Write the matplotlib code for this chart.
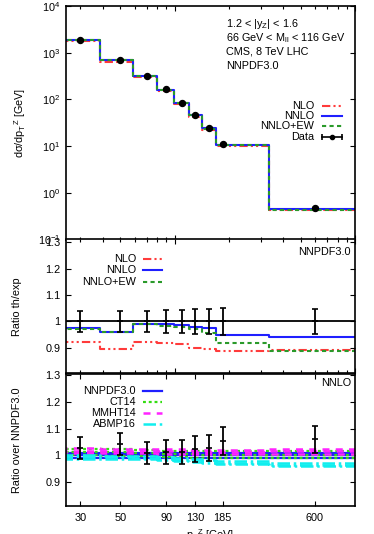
import numpy as np
import matplotlib
matplotlib.use("Agg")
import matplotlib.pyplot as plt
from matplotlib.ticker import FixedLocator, NullFormatter, FixedFormatter, LogLocator

plt.rcParams['font.family'] = ['Liberation Sans', 'DejaVu Sans']
plt.rcParams['mathtext.fontset'] = 'custom'
plt.rcParams['mathtext.rm'] = 'Liberation Sans'
plt.rcParams['mathtext.it'] = 'Liberation Sans:italic'
plt.rcParams['mathtext.default'] = 'regular'

# ---------------- data ----------------
x_pt = [30, 50, 70, 90, 110, 130, 155, 185, 600]
data = [1900, 715, 320, 163, 85, 47, 24.5, 11.3, 0.475]
rel_err = [0.040, 0.040, 0.040, 0.045, 0.045, 0.047, 0.048, 0.051, 0.048]

# theory / experiment ratios
r_nlo = [0.923, 0.897, 0.923, 0.920, 0.916, 0.898, 0.897, 0.887, 0.891]
r_nnlo = [0.975, 0.960, 0.992, 0.989, 0.988, 0.978, 0.975, 0.950, 0.943]
r_nnloew = [0.972, 0.960, 0.990, 0.983, 0.978, 0.970, 0.958, 0.920, 0.888]

# PDF ratios over NNPDF3.0 (central, uncertainty)
nnpdf_c = [1.000, 1.000, 1.000, 1.000, 1.000, 1.000, 1.000, 1.000, 1.000]
nnpdf_e = [0.009, 0.009, 0.009, 0.009, 0.009, 0.009, 0.009, 0.009, 0.009]
ct14_c = [1.011, 1.010, 1.007, 1.005, 1.004, 1.003, 1.002, 1.002, 1.002]
ct14_e = [0.012, 0.012, 0.012, 0.012, 0.012, 0.012, 0.012, 0.012, 0.012]
mmht_c = [1.017, 1.016, 1.015, 1.014, 1.014, 1.013, 1.013, 1.013, 1.014]
mmht_e = [0.008, 0.008, 0.008, 0.008, 0.008, 0.008, 0.008, 0.008, 0.008]
abmp_c = [0.993, 0.992, 0.990, 0.986, 0.983, 0.980, 0.977, 0.971, 0.964]
abmp_e = [0.006, 0.006, 0.006, 0.006, 0.006, 0.006, 0.006, 0.006, 0.005]

xticks_bottom = [30, 50, 90, 130, 185, 600]

# ---------------- helpers ----------------
xa = np.array(x_pt, float)
lx = np.log10(xa)
mids = (lx[1:] + lx[:-1]) / 2
edges = 10 ** np.concatenate([[2 * lx[0] - mids[0]], mids, [2 * lx[-1] - mids[-1]]])


def steps(ax, vals, **kw):
    v = np.asarray(vals, float)
    return ax.step(edges, np.append(v, v[-1]), where='post', **kw)


C_RED = '#ff3b3b'
C_BLUE = '#1f1fff'
C_GREEN = '#2a9a2a'
C_LIME = '#33dd11'
C_MAG = '#ff22ff'
C_CYAN = '#11eeee'

st_nlo = dict(color=C_RED, lw=1.5, dashes=(4, 1.5, 1, 1.5, 1, 1.5))
st_nnlo = dict(color=C_BLUE, lw=1.5, linestyle='-')
st_ew = dict(color=C_GREEN, lw=1.5, dashes=(2, 1.6))
st_nnpdf = dict(color=C_BLUE, lw=1.6, linestyle='-')
st_ct = dict(color=C_LIME, lw=1.6, dashes=(1.3, 1.3))
st_mmht = dict(color=C_MAG, lw=1.8, dashes=(2.8, 2.5))
st_abmp = dict(color=C_CYAN, lw=1.8, dashes=(5, 1.5, 1, 1.5))

FS = 7.8
W_PX, H_PX = 374, 534
fig = plt.figure(figsize=(W_PX / 100, H_PX / 100), dpi=100)
L = 66 / W_PX
W = 289 / W_PX
ax1 = fig.add_axes([L, 1 - 239.5 / H_PX, W, 233.5 / H_PX])
ax2 = fig.add_axes([L, 1 - 373 / H_PX, W, 133.5 / H_PX])
ax3 = fig.add_axes([L, 1 - 505.7 / H_PX, W, 131.7 / H_PX])

for ax in (ax1, ax2, ax3):
    ax.set_xscale('log')
    ax.set_xlim(25, 1000)
    for s in ax.spines.values():
        s.set_linewidth(1.2)
    ax.tick_params(which='both', direction='in', top=True, right=True,
                   labelsize=FS, width=0.8, colors='black')
    ax.tick_params(which='major', length=3.6, pad=4)
    ax.tick_params(which='minor', length=2.0)

# ---------------- top panel ----------------
d = np.array(data)
steps(ax1, d * np.array(r_nlo), **st_nlo)
steps(ax1, d * np.array(r_nnlo), **st_nnlo)
steps(ax1, d * np.array(r_nnloew), **st_ew)
ax1.errorbar(x_pt, data, yerr=d * np.array(rel_err), fmt='o', color='black',
             ms=4.3, elinewidth=1.0, capsize=2, zorder=5)
ax1.set_yscale('log')
ax1.set_ylim(0.1, 1e4)
ax1.yaxis.set_major_locator(LogLocator(base=10, numticks=10))
ax1.yaxis.set_minor_locator(FixedLocator([]))
ax1.xaxis.set_major_locator(FixedLocator([100, 1000]))
ax1.xaxis.set_minor_locator(LogLocator(base=10, subs=np.arange(2, 10), numticks=10))
ax1.xaxis.set_major_formatter(NullFormatter())
ax1.xaxis.set_minor_formatter(NullFormatter())
ax1.set_ylabel('d\u03c3/dp$_T$$^Z$ [GeV]', fontsize=FS)
ax1.yaxis.set_label_coords(-0.13, 0.5)

info = ['1.2 < |y$_Z$| < 1.6', '66 GeV < M$_{ll}$ < 116 GeV',
        'CMS, 8 TeV LHC', 'NNPDF3.0']
for i, t in enumerate(info):
    ax1.text(0.554, 0.923 - i * 0.060, t, transform=ax1.transAxes,
             fontsize=FS, ha='left', va='center')

leg1 = [('NLO', st_nlo), ('NNLO', st_nnlo), ('NNLO+EW', st_ew)]
ys = [0.573, 0.530, 0.486]
for (lab, st), y in zip(leg1, ys):
    ax1.text(0.858, y, lab, transform=ax1.transAxes, fontsize=FS, ha='right', va='center')
    ax1.plot([0.886, 0.955], [y, y], transform=ax1.transAxes, **st)
y = 0.438
ax1.text(0.858, y, 'Data', transform=ax1.transAxes, fontsize=FS, ha='right', va='center')
ax1.plot([0.886, 0.955], [y, y], transform=ax1.transAxes, color='black', lw=1.2)
ax1.plot([0.886, 0.955], [y, y], transform=ax1.transAxes, color='black', lw=0,
         marker='|', ms=5, mew=1.2)
ax1.plot([0.9205], [y], transform=ax1.transAxes, color='black', marker='o', ms=3)

# ---------------- middle panel ----------------
steps(ax2, r_nlo, **st_nlo)
steps(ax2, r_nnlo, **st_nnlo)
steps(ax2, r_nnloew, **st_ew)
ax2.axhline(1.0, color='black', lw=1.3, zorder=3)
ax2.errorbar(x_pt, np.ones(len(x_pt)), yerr=rel_err, fmt='_', color='black',
             ms=4, mew=1.2, elinewidth=1.3, capsize=2.5, capthick=1.3, zorder=5)
ax2.set_ylim(0.805, 1.31)
ax2.yaxis.set_major_locator(FixedLocator([0.9, 1.0, 1.1, 1.2, 1.3]))
ax2.yaxis.set_major_formatter(FixedFormatter(['0.9', '1', '1.1', '1.2', '1.3']))
ax2.xaxis.set_major_locator(FixedLocator([100, 1000]))
ax2.xaxis.set_minor_locator(LogLocator(base=10, subs=np.arange(2, 10), numticks=10))
ax2.xaxis.set_major_formatter(NullFormatter())
ax2.xaxis.set_minor_formatter(NullFormatter())
ax2.set_ylabel('Ratio th/exp', fontsize=FS)
ax2.yaxis.set_label_coords(-0.152, 0.5)
ax2.text(0.986, 0.909, 'NNPDF3.0', transform=ax2.transAxes, fontsize=FS,
         ha='right', va='center')
ys = [0.852, 0.769, 0.679]
for (lab, st), y in zip(leg1, ys):
    ax2.text(0.242, y, lab, transform=ax2.transAxes, fontsize=FS, ha='right', va='center')
    ax2.plot([0.266, 0.332], [y, y], transform=ax2.transAxes, **st)

# ---------------- bottom panel ----------------
pdfs = [('NNPDF3.0', nnpdf_c, nnpdf_e, st_nnpdf),
        ('CT14', ct14_c, ct14_e, st_ct),
        ('MMHT14', mmht_c, mmht_e, st_mmht),
        ('ABMP16', abmp_c, abmp_e, st_abmp)]
for lab, c, e, st in pdfs:
    c = np.array(c)
    e = np.array(e)
    steps(ax3, c + e, **st)
    steps(ax3, c - e, **st)
    steps(ax3, c, **st)
rn = np.array(r_nnlo)
ax3.errorbar(x_pt, 1 / rn, yerr=np.array(rel_err) / rn, fmt='_', color='black',
             ms=4, mew=1.2, elinewidth=1.3, capsize=2.5, capthick=1.3, zorder=5)
ax3.set_ylim(0.81, 1.305)
ax3.yaxis.set_major_locator(FixedLocator([0.9, 1.0, 1.1, 1.2, 1.3]))
ax3.yaxis.set_major_formatter(FixedFormatter(['0.9', '1', '1.1', '1.2', '1.3']))
ax3.xaxis.set_major_locator(FixedLocator(xticks_bottom))
ax3.xaxis.set_major_formatter(FixedFormatter([str(v) for v in xticks_bottom]))
ax3.xaxis.set_minor_locator(FixedLocator([]))
ax3.tick_params(axis='x', which='major', pad=5)
ax3.set_ylabel('Ratio over NNPDF3.0', fontsize=FS)
ax3.yaxis.set_label_coords(-0.152, 0.5)
ax3.text(0.986, 0.929, 'NNLO', transform=ax3.transAxes, fontsize=FS,
         ha='right', va='center')
ys = [0.871, 0.790, 0.706, 0.620]
for (lab, c, e, st), y in zip(pdfs, ys):
    ax3.text(0.242, y, lab, transform=ax3.transAxes, fontsize=FS, ha='right', va='center')
    ax3.plot([0.266, 0.332], [y, y], transform=ax3.transAxes, **st)

fig.text((66 + 144.5) / W_PX, 1 - 527 / H_PX, 'p$_T$$^Z$ [GeV]', fontsize=FS,
         ha='center', va='top')

fig.savefig('out.png', dpi=100)
